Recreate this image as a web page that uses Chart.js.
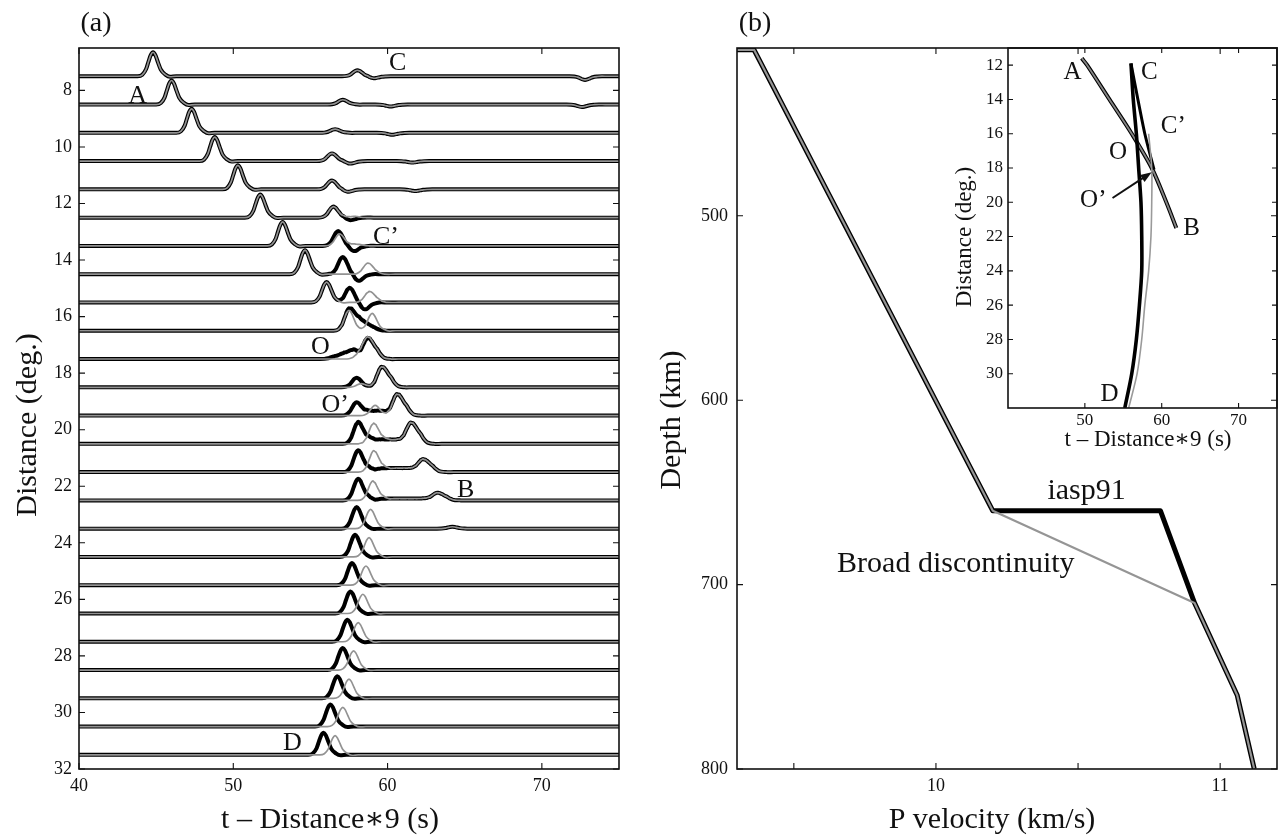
<!DOCTYPE html>
<html lang="en">
<head>
<meta charset="UTF-8">
<title>Record section and P velocity model</title>
<script src="https://cdn.jsdelivr.net/npm/chart.js"></script>
<style>
  body { margin: 0; background: #fff; }
  .wrap { position: relative; width: 1281px; height: 840px; }
  .box { position: absolute; }
</style>
</head>
<body>
<div class="wrap">
  <div class="box" style="left:0;top:0;width:640px;height:840px"><canvas id="chartA"></canvas></div>
  <div class="box" style="left:640px;top:0;width:641px;height:840px"><canvas id="chartB"></canvas></div>
  <div class="box" style="left:940px;top:0;width:341px;height:460px"><canvas id="chartInset"></canvas></div>
</div>
<script>
// ---- panel (a): record section ----
const timeMin = 40, timeMax = 75;
const timeTicks = [40, 50, 60, 70];
const distTicks = [8, 10, 12, 14, 16, 18, 20, 22, 24, 26, 28, 30, 32];
const traceBase = [7.5, 8.5, 9.5, 10.5, 11.5, 12.5, 13.5, 14.5, 15.5, 16.5, 17.5, 18.5, 19.5,
                   20.5, 21.5, 22.5, 23.5, 24.5, 25.5, 26.5, 27.5, 28.5, 29.5, 30.5, 31.5];
const traceGain = 0.85;

const pulseOffsets = [-1.0, -0.7, -0.45, -0.3, -0.15, 0, 0.15, 0.32, 0.5, 0.8, 1.1, 1.5];
const pulseShape   = [0, 0.06, 0.3, 0.6, 0.88, 1, 0.88, 0.58, 0.28, 0.07, -0.02, 0];

// arrivals [time, amplitude]: seen on both models, on iasp91 only, on the broad model only
const sharedPeaks = [
  [[44.8, 1], [58.05, 0.25], [59.1, -0.08], [72.8, -0.15]],
  [[46.0, 1], [57.1, 0.2], [60.2, -0.08], [72.6, -0.1]],
  [[47.3, 1], [56.6, 0.15], [60.3, -0.08]],
  [[48.8, 1], [56.4, 0.32], [57.6, -0.1], [61.6, -0.06]],
  [[50.3, 1], [56.4, 0.37], [57.4, -0.1], [61.8, -0.07]],
  [[51.75, 0.96], [56.5, 0.46]],
  [[53.2, 1]],
  [[54.65, 1]],
  [[56.05, 0.85]],
  [[57.5, 0.85]],
  [[58.7, 0.8], [59.2, 0.3]],
  [[59.6, 0.78], [60.1, 0.3]],
  [[60.6, 0.82], [61.1, 0.3]],
  [[59.0, 0.12], [59.5, 0.12], [60.0, 0.12], [60.5, 0.12], [61.0, 0.1], [61.5, 0.78], [62.0, 0.32]],
  [[59.4, 0.1], [59.9, 0.11], [60.4, 0.11], [60.9, 0.11], [61.4, 0.11], [61.9, 0.1], [62.3, 0.45], [62.8, 0.2]],
  [[59.6, 0.05], [60.1, 0.05], [60.6, 0.05], [61.1, 0.05], [61.6, 0.05], [62.1, 0.05], [62.6, 0.06], [63.2, 0.28], [63.7, 0.12]],
  [[64.2, 0.08]],
  [], [], [], [], [], [], [], []
];
const blackPeaks = [
  [], [], [], [], [],
  [[57.6, -0.1]],
  [[56.8, 0.62], [57.8, -0.22]],
  [[57.1, 0.72], [58.1, -0.28]],
  [[57.55, 0.62], [58.5, -0.3]],
  [[58.0, 0.35], [58.5, 0.25], [59.0, 0.12]],
  [[56.6, 0.1], [57.2, 0.2], [57.8, 0.35]],
  [[58.0, 0.4]],
  [[58.0, 0.55], [58.7, 0.12], [59.2, 0.14], [59.7, 0.14]],
  [[58.1, 0.9], [58.7, 0.1]],
  [[58.1, 0.9], [58.8, 0.1]],
  [[58.1, 0.9], [58.8, 0.06]],
  [[58.0, 0.9]],
  [[57.9, 0.92]],
  [[57.7, 0.92]],
  [[57.6, 0.92]],
  [[57.4, 0.92]],
  [[57.1, 0.92]],
  [[56.75, 0.92]],
  [[56.3, 0.92]],
  [[55.85, 0.92]]
];
const grayPeaks = [
  [], [], [], [], [],
  [[57.8, 0.06]],
  [[56.9, 0.5], [58.0, 0.08]],
  [[58.7, 0.4], [59.0, 0.1]],
  [[58.8, 0.42], [59.2, 0.1]],
  [[59.0, 0.72]],
  [[58.2, 0.2]],
  [[58.3, 0.15]],
  [[59.2, 0.42]],
  [[59.1, 0.7]],
  [[59.1, 0.83]],
  [[59.05, 0.8]],
  [[58.9, 0.8]],
  [[58.8, 0.8]],
  [[58.6, 0.8]],
  [[58.4, 0.8]],
  [[58.1, 0.8]],
  [[57.8, 0.8]],
  [[57.5, 0.8]],
  [[57.1, 0.8]],
  [[56.6, 0.8]]
];

// ---- panel (b): velocity models ----
const velYTicks = [500, 600, 700, 800];
const velXTicks = [9.5, 10, 10.5, 11];
const iaspDepth = [410, 410, 660, 660, 710, 760, 800];
const iaspVel   = [9.03, 9.36, 10.20, 10.79, 10.91, 11.06, 11.12];
const broadDepth = [410, 410, 660, 710, 760, 800];
const broadVel   = [9.03, 9.36, 10.20, 10.91, 11.06, 11.12];

// ---- inset: travel time curves ----
const insetTimeTicks = [50, 60, 70];
const insetDistTicks = [12, 14, 16, 18, 20, 22, 24, 26, 28, 30];
const abTime = [49.6, 50.3, 53.2, 56.1, 58.7, 60.6, 61.9];
const abDist = [11.6, 12, 14, 16, 18, 20, 21.5];
const cdTime = [56.0, 56.3, 56.7, 57.0, 57.3, 57.4, 57.4, 57.1, 56.7, 56.1, 55.2];
const cdDist = [11.9, 14, 16, 18, 20, 22, 24, 26, 28, 30, 32];
const ccTime = [56.0, 56.9, 57.8, 59.0];
const ccDist = [11.9, 14, 16, 18.1];
const broadTime = [58.3, 58.7, 58.7, 58.6, 58.3, 57.8, 57.4, 56.8, 55.7];
const broadDist = [16, 18, 20, 22, 24, 26, 28, 30, 32];

const serif = '"Liberation Serif", "DejaVu Serif", serif';
const ink = '#111';

function pulseAt(dt) {
  const n = pulseOffsets.length;
  if (dt <= pulseOffsets[0] || dt >= pulseOffsets[n - 1]) return 0;
  for (let k = 1; k < n; k++) {
    if (dt <= pulseOffsets[k]) {
      const f = (dt - pulseOffsets[k - 1]) / (pulseOffsets[k] - pulseOffsets[k - 1]);
      return pulseShape[k - 1] + f * (pulseShape[k] - pulseShape[k - 1]);
    }
  }
  return 0;
}

function buildTrace(base, peaks) {
  const times = [timeMin, timeMax];
  peaks.forEach(([t]) => pulseOffsets.forEach(o => {
    const s = t + o;
    if (s > timeMin && s < timeMax) times.push(s);
  }));
  times.sort((a, b) => a - b);
  const uniq = times.filter((v, i) => i === 0 || v - times[i - 1] > 0.04);
  return uniq.map(t => ({
    x: t,
    y: base - traceGain * peaks.reduce((s, [pt, amp]) => s + amp * pulseAt(t - pt), 0)
  }));
}

const pairs = (xs, ys) => xs.map((v, i) => ({ x: v, y: ys[i] }));

// frame, inward ticks, free text
const decoPlugin = {
  id: 'deco',
  afterDraw(chart, args, opts) {
    const { ctx, chartArea: a } = chart;
    const x = chart.scales.x, y = chart.scales.y;
    ctx.save();
    ctx.strokeStyle = ink;
    ctx.lineWidth = 1.6;
    ctx.strokeRect(a.left, a.top, a.right - a.left, a.bottom - a.top);
    ctx.lineWidth = 1.1;
    const len = opts.tickLen || 6;
    ctx.beginPath();
    x.ticks.forEach(t => {
      const px = x.getPixelForValue(t.value);
      ctx.moveTo(px, a.bottom); ctx.lineTo(px, a.bottom - len);
      ctx.moveTo(px, a.top); ctx.lineTo(px, a.top + len);
    });
    y.ticks.forEach(t => {
      const py = y.getPixelForValue(t.value);
      ctx.moveTo(a.left, py); ctx.lineTo(a.left + len, py);
      ctx.moveTo(a.right, py); ctx.lineTo(a.right - len, py);
    });
    ctx.stroke();

    if (opts.arrow) {
      const [x0, y0] = opts.arrow.from, [x1, y1] = opts.arrow.to;
      const p0 = [x.getPixelForValue(x0), y.getPixelForValue(y0)];
      const p1 = [x.getPixelForValue(x1), y.getPixelForValue(y1)];
      const ang = Math.atan2(p1[1] - p0[1], p1[0] - p0[0]);
      ctx.lineWidth = 2;
      ctx.beginPath();
      ctx.moveTo(p0[0], p0[1]); ctx.lineTo(p1[0] - 8 * Math.cos(ang), p1[1] - 8 * Math.sin(ang));
      ctx.stroke();
      ctx.fillStyle = ink;
      ctx.beginPath();
      ctx.moveTo(p1[0], p1[1]);
      ctx.lineTo(p1[0] - 12 * Math.cos(ang - 0.35), p1[1] - 12 * Math.sin(ang - 0.35));
      ctx.lineTo(p1[0] - 12 * Math.cos(ang + 0.35), p1[1] - 12 * Math.sin(ang + 0.35));
      ctx.closePath();
      ctx.fill();
    }

    ctx.fillStyle = ink;
    ctx.textAlign = 'center';
    ctx.textBaseline = 'middle';
    (opts.labels || []).forEach(l => {
      ctx.font = l.font;
      ctx.fillText(l.text, x.getPixelForValue(l.x), y.getPixelForValue(l.y));
    });
    (opts.texts || []).forEach(t => {
      ctx.save();
      ctx.translate(t.x, t.y);
      if (t.rot) ctx.rotate(t.rot);
      ctx.font = t.font;
      ctx.fillText(t.text, 0, 0);
      ctx.restore();
    });
    ctx.restore();
  }
};

function axis(opts) {
  return {
    type: 'linear',
    min: opts.min, max: opts.max, reverse: !!opts.reverse,
    afterBuildTicks: s => { s.ticks = opts.ticks.map(v => ({ value: v })); },
    afterFit: s => { if (opts.width != null) s.width = opts.width; if (opts.height != null) s.height = opts.height; },
    grid: { display: false, drawTicks: false },
    border: { display: false },
    ticks: {
      font: { family: serif, size: opts.fontSize },
      color: ink, padding: opts.padding, maxRotation: 0, autoSkip: false,
      callback: opts.callback || (v => v)
    }
  };
}

const baseOptions = {
  responsive: true,
  maintainAspectRatio: false,
  animation: false,
  events: [],
  elements: { point: { radius: 0 } }
};

// panel (a)
const aSets = [];
traceBase.forEach((base, i) => {
  aSets.push({
    data: buildTrace(base, sharedPeaks[i].concat(blackPeaks[i])),
    borderColor: '#000', borderWidth: 4, order: 1,
    cubicInterpolationMode: 'monotone', borderJoinStyle: 'round'
  });
  aSets.push({
    data: buildTrace(base, sharedPeaks[i].concat(grayPeaks[i])),
    borderColor: '#929292', borderWidth: 1.7, order: 0,
    cubicInterpolationMode: 'monotone', borderJoinStyle: 'round'
  });
});

new Chart(document.getElementById('chartA'), {
  type: 'line',
  data: { datasets: aSets },
  options: Object.assign({}, baseOptions, {
    layout: { padding: { left: 0, top: 48, right: 21, bottom: 0 } },
    scales: {
      x: axis({ min: timeMin, max: timeMax, ticks: timeTicks, height: 71, fontSize: 18, padding: 6 }),
      y: axis({ min: 6.5, max: 32, reverse: true, ticks: distTicks, width: 79, fontSize: 18, padding: 7 })
    },
    plugins: {
      legend: { display: false },
      tooltip: { enabled: false },
      deco: {
        labels: [
          { text: 'A', x: 43.8, y: 8.2, font: `26px ${serif}` },
          { text: 'C', x: 60.65, y: 7.05, font: `26px ${serif}` },
          { text: 'C\u2019', x: 59.9, y: 13.2, font: `26px ${serif}` },
          { text: 'O', x: 55.65, y: 17.08, font: `26px ${serif}` },
          { text: 'O\u2019', x: 56.6, y: 19.13, font: `26px ${serif}` },
          { text: 'B', x: 65.06, y: 22.14, font: `26px ${serif}` },
          { text: 'D', x: 53.83, y: 31.08, font: `26px ${serif}` }
        ],
        texts: [
          { text: '(a)', x: 96, y: 24, font: `28px ${serif}` },
          { text: 'Distance (deg.)', x: 28, y: 425, rot: -Math.PI / 2, font: `30px ${serif}` },
          { text: 't \u2013 Distance\u22179 (s)', x: 330, y: 820, font: `30px ${serif}` }
        ]
      }
    }
  }),
  plugins: [decoPlugin]
});

// panel (b)
new Chart(document.getElementById('chartB'), {
  type: 'line',
  data: {
    datasets: [
      { data: pairs(iaspVel, iaspDepth), borderColor: '#000', borderWidth: 5, order: 1, tension: 0, borderJoinStyle: 'round' },
      { data: pairs(broadVel, broadDepth), borderColor: '#959595', borderWidth: 2.2, order: 0, tension: 0, borderJoinStyle: 'round' }
    ]
  },
  options: Object.assign({}, baseOptions, {
    layout: { padding: { left: 0, top: 48, right: 4, bottom: 0 } },
    scales: {
      x: axis({ min: 9.3, max: 11.2, ticks: velXTicks, height: 71, fontSize: 18, padding: 6,
                callback: v => (Math.abs(v - Math.round(v)) < 1e-9 ? v : '') }),
      y: axis({ min: 409, max: 800, reverse: true, ticks: velYTicks, width: 97, fontSize: 18, padding: 9 })
    },
    plugins: {
      legend: { display: false },
      tooltip: { enabled: false },
      deco: {
        labels: [
          { text: 'iasp91', x: 10.53, y: 649.5, font: `30px ${serif}` },
          { text: 'Broad discontinuity', x: 10.07, y: 689, font: `30px ${serif}` }
        ],
        texts: [
          { text: '(b)', x: 115, y: 24, font: `28px ${serif}` },
          { text: 'Depth (km)', x: 32, y: 420, rot: -Math.PI / 2, font: `30px ${serif}` },
          { text: 'P velocity (km/s)', x: 352, y: 820, font: `30px ${serif}` }
        ]
      }
    }
  }),
  plugins: [decoPlugin]
});

// inset
new Chart(document.getElementById('chartInset'), {
  type: 'line',
  data: {
    datasets: [
      { data: pairs(abTime, abDist), borderColor: '#000', borderWidth: 4, order: 3, tension: 0.3 },
      { data: pairs(abTime, abDist), borderColor: '#858585', borderWidth: 1.8, order: 2, tension: 0.3 },
      { data: pairs(cdTime, cdDist), borderColor: '#000', borderWidth: 3.6, order: 1, tension: 0.3 },
      { data: pairs(ccTime, ccDist), borderColor: '#000', borderWidth: 3, order: 1, tension: 0.2 },
      { data: pairs(broadTime, broadDist), borderColor: '#9a9a9a', borderWidth: 1.6, order: 0, tension: 0.3 }
    ]
  },
  options: Object.assign({}, baseOptions, {
    layout: { padding: { left: 0, top: 48, right: 4, bottom: 0 } },
    scales: {
      x: axis({ min: timeMin, max: timeMax, ticks: insetTimeTicks, height: 52, fontSize: 17, padding: 2 }),
      y: axis({ min: 11, max: 32, reverse: true, ticks: insetDistTicks, width: 68, fontSize: 17, padding: 5 })
    },
    plugins: {
      legend: { display: false },
      tooltip: { enabled: false },
      deco: {
        tickLen: 5,
        arrow: { from: [53.6, 19.75], to: [58.7, 18.25] },
        labels: [
          { text: 'A', x: 48.4, y: 12.4, font: `25px ${serif}` },
          { text: 'C', x: 58.4, y: 12.4, font: `25px ${serif}` },
          { text: 'C\u2019', x: 61.5, y: 15.6, font: `25px ${serif}` },
          { text: 'O', x: 54.3, y: 17.1, font: `25px ${serif}` },
          { text: 'O\u2019', x: 51.1, y: 19.9, font: `25px ${serif}` },
          { text: 'B', x: 63.9, y: 21.5, font: `25px ${serif}` },
          { text: 'D', x: 53.2, y: 31.2, font: `25px ${serif}` }
        ],
        texts: [
          { text: 'Distance (deg.)', x: 25, y: 237, rot: -Math.PI / 2, font: `23px ${serif}` },
          { text: 't \u2013 Distance\u22179 (s)', x: 208, y: 440, font: `23px ${serif}` }
        ]
      }
    }
  }),
  plugins: [decoPlugin]
});
</script>
</body>
</html>
